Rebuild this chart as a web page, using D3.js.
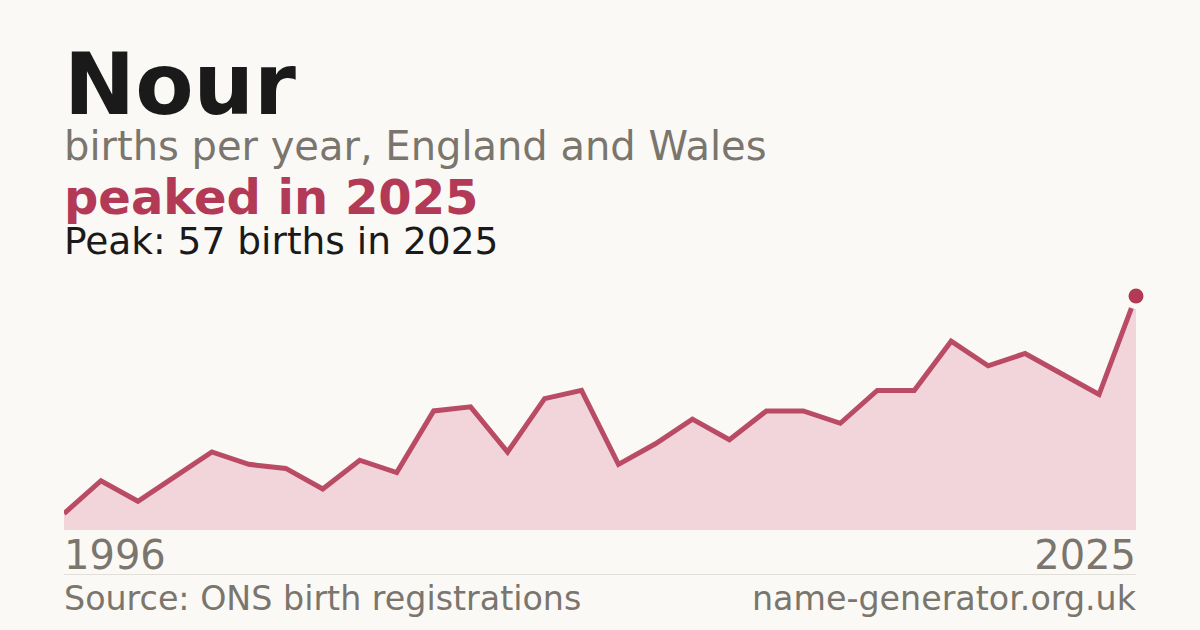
<!DOCTYPE html>
<html>
<head>
<meta charset="utf-8">
<script src="https://cdn.jsdelivr.net/npm/d3@7"></script>
<style>
  html, body { margin: 0; padding: 0; background: #faf9f5; }
  svg { display: block; font-family: "DejaVu Sans", sans-serif; }
</style>
</head>
<body>
<div id="chart"></div>
<script>
// Data
var years = d3.range(1996, 2026);
var births = [4, 12, 7, 13, 19, 16, 15, 10, 17, 14,
              29, 30, 19, 32, 34, 16, 21, 27, 22, 29,
              29, 26, 34, 34, 46, 40, 43, 38, 33, 57];
var tickYears = [1996, 2025];

var nameText = "Nour";
var subtitleText = "births per year, England and Wales";
var headlineText = "peaked in 2025";
var peakText = "Peak: 57 births in 2025";
var sourceText = "Source: ONS birth registrations";
var siteText = "name-generator.org.uk";

// Colours
var bg = "#faf9f5";
var ink = "#1a1a1a";
var grey = "#7a756d";
var accent = "#b33a57";
var areaFill = "#f2d5db";

// Plot box (don't call it "top", that's window.top)
var width = 1200, height = 630;
var plotLeft = 64, plotRight = 1136, plotTop = 296, plotBottom = 530;

var svg = d3.select("#chart").append("svg")
    .attr("width", width)
    .attr("height", height);

svg.append("rect")
    .attr("width", width)
    .attr("height", height)
    .attr("fill", bg);

// Headings
svg.append("text")
    .attr("x", plotLeft).attr("y", 114)
    .attr("font-size", 85).attr("font-weight", "bold")
    .attr("fill", ink)
    .text(nameText);

svg.append("text")
    .attr("x", plotLeft).attr("y", 160)
    .attr("font-size", 40)
    .attr("fill", grey)
    .text(subtitleText);

svg.append("text")
    .attr("x", plotLeft).attr("y", 214)
    .attr("font-size", 48).attr("font-weight", "bold")
    .attr("fill", accent)
    .text(headlineText);

svg.append("text")
    .attr("x", plotLeft).attr("y", 254)
    .attr("font-size", 37.5)
    .attr("fill", ink)
    .text(peakText);

// Scales
var x = d3.scaleLinear()
    .domain(d3.extent(years))
    .range([plotLeft, plotRight]);

var y = d3.scaleLinear()
    .domain([0, d3.max(births)])
    .range([plotBottom, plotTop]);

var points = years.map(function (yr, i) { return { year: yr, value: births[i] }; });

svg.append("clipPath").attr("id", "plotClip")
    .append("rect")
    .attr("x", plotLeft).attr("y", 0)
    .attr("width", plotRight - plotLeft).attr("height", plotBottom);

var area = d3.area()
    .x(function (d) { return x(d.year); })
    .y0(plotBottom)
    .y1(function (d) { return y(d.value); });

var line = d3.line()
    .x(function (d) { return x(d.year); })
    .y(function (d) { return y(d.value); });

var plot = svg.append("g").attr("clip-path", "url(#plotClip)");

plot.append("path")
    .datum(points)
    .attr("d", area)
    .attr("fill", areaFill);

plot.append("path")
    .datum(points)
    .attr("d", line)
    .attr("fill", "none")
    .attr("stroke", accent)
    .attr("stroke-opacity", 0.9)
    .attr("stroke-width", 5)
    .attr("stroke-linejoin", "miter");

// Peak marker with a halo in the page colour
var peak = points[d3.maxIndex(points, function (d) { return d.value; })];
svg.append("circle")
    .attr("cx", x(peak.year))
    .attr("cy", y(peak.value))
    .attr("r", 7.5)
    .attr("fill", accent)
    .attr("stroke", bg)
    .attr("stroke-width", 11)
    .attr("paint-order", "stroke");

// Year labels
svg.selectAll(".yearLabel")
    .data(tickYears)
    .enter().append("text")
    .attr("class", "yearLabel")
    .attr("x", function (d) { return x(d); })
    .attr("y", 569)
    .attr("font-size", 40)
    .attr("fill", grey)
    .attr("text-anchor", function (d, i) { return i == 0 ? "start" : "end"; })
    .text(function (d) { return d; });

// Footer
svg.append("line")
    .attr("x1", plotLeft).attr("x2", plotRight)
    .attr("y1", 574.5).attr("y2", 574.5)
    .attr("stroke", "#e2dfd9")
    .attr("stroke-width", 1);

svg.append("text")
    .attr("x", plotLeft).attr("y", 610)
    .attr("font-size", 33.3)
    .attr("fill", grey)
    .text(sourceText);

svg.append("text")
    .attr("x", plotRight).attr("y", 610)
    .attr("font-size", 33.3)
    .attr("fill", grey)
    .attr("text-anchor", "end")
    .text(siteText);
</script>
</body>
</html>
